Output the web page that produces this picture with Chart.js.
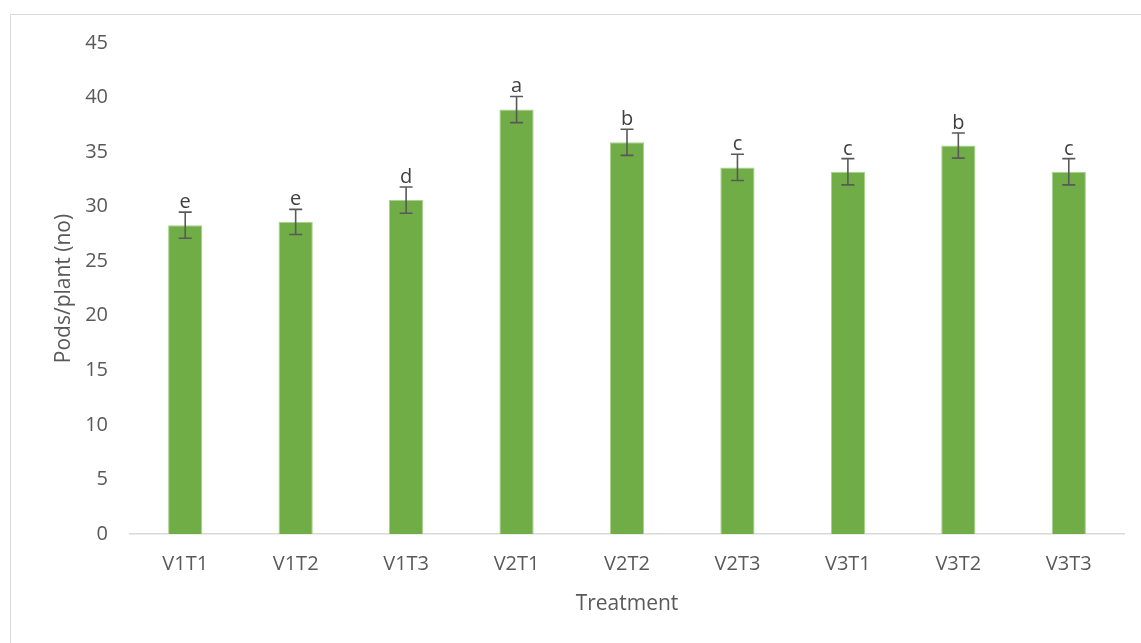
<!DOCTYPE html>
<html><head><meta charset="utf-8">
<script src="https://cdn.jsdelivr.net/npm/chart.js@4"></script>
<style>
html,body{margin:0;padding:0;background:#fff;}
#frame{position:absolute;left:10px;top:14px;width:1140px;height:640px;border:1px solid #d9d9d9;box-sizing:border-box;}
#wrap{position:absolute;left:0;top:0;width:1141px;height:643px;}
</style></head>
<body>
<div id="frame"></div>
<div id="wrap"><canvas id="c" width="1141" height="643"></canvas></div>
<script>
const categories = ["V1T1","V1T2","V1T3","V2T1","V2T2","V2T3","V3T1","V3T2","V3T3"];
const podsPerPlant = [28.3, 28.6, 30.6, 38.9, 35.9, 33.6, 33.2, 35.6, 33.2];
const errors = [1.2, 1.15, 1.2, 1.2, 1.2, 1.2, 1.2, 1.15, 1.2];
const letters = ["e","e","d","a","b","c","c","b","c"];
const yTicks = [0,5,10,15,20,25,30,35,40,45];

const TXT = '#595959';
const FONT = "'Open Sans', sans-serif";

const errPlugin = {
  id: 'errbars',
  afterDatasetsDraw(chart) {
    const ctx = chart.ctx;
    const meta = chart.getDatasetMeta(0);
    const y = chart.scales.y;
    ctx.save();
    ctx.strokeStyle = '#595959';
    ctx.lineWidth = 1.6;
    meta.data.forEach((bar, i) => {
      const x = bar.x;
      const yt = y.getPixelForValue(podsPerPlant[i] + errors[i]);
      const yb = y.getPixelForValue(podsPerPlant[i] - errors[i]);
      ctx.beginPath();
      ctx.moveTo(x, yt); ctx.lineTo(x, yb);
      ctx.moveTo(x - 6.5, yt); ctx.lineTo(x + 6.5, yt);
      ctx.moveTo(x - 6.5, yb); ctx.lineTo(x + 6.5, yb);
      ctx.stroke();
      ctx.fillStyle = '#404040';
      ctx.font = "20px " + FONT;
      ctx.textAlign = 'center';
      ctx.textBaseline = 'alphabetic';
      ctx.fillText(letters[i], x, yt - 4);
    });
    ctx.restore();
  }
};

new Chart(document.getElementById('c'), {
  type: 'bar',
  data: {
    labels: categories,
    datasets: [{
      data: podsPerPlant,
      backgroundColor: '#70AD47',
      borderColor: '#a9d18e',
      borderWidth: {left:1,right:1,top:1,bottom:0},
      barPercentage: 0.31,
      categoryPercentage: 1.0
    }]
  },
  options: {
    responsive: false,
    animation: false,
    devicePixelRatio: 1,
    layout: { padding: { left: 10, right: 17, top: 43, bottom: 26 } },
    plugins: { legend: { display: false }, tooltip: { enabled: false } },
    scales: {
      x: {
        grid: { display: false, drawTicks: false },
        border: { color: '#d9d9d9', width: 1.5 },
        ticks: { color: TXT, font: { family: FONT, size: 20 }, padding: 18 },
        title: { display: true, text: 'Treatment', color: TXT, font: { family: FONT, size: 21 }, padding: { top: 6, bottom: 0 } },
        afterFit(s) { s.height = 643 - 534 - 26; }
      },
      y: {
        min: 0, max: 45,
        afterBuildTicks(s) { s.ticks = yTicks.map(v => ({ value: v })); },
        grid: { display: false, drawTicks: false },
        border: { display: false },
        ticks: { color: TXT, font: { family: FONT, size: 20 }, padding: 22 },
        title: { display: true, text: 'Pods/plant (no)', color: TXT, font: { family: FONT, size: 21 }, padding: { top: 41, bottom: 0 } },
        afterFit(s) { s.width = 120; }
      }
    }
  },
  plugins: [errPlugin]
});
</script>
</body></html>
